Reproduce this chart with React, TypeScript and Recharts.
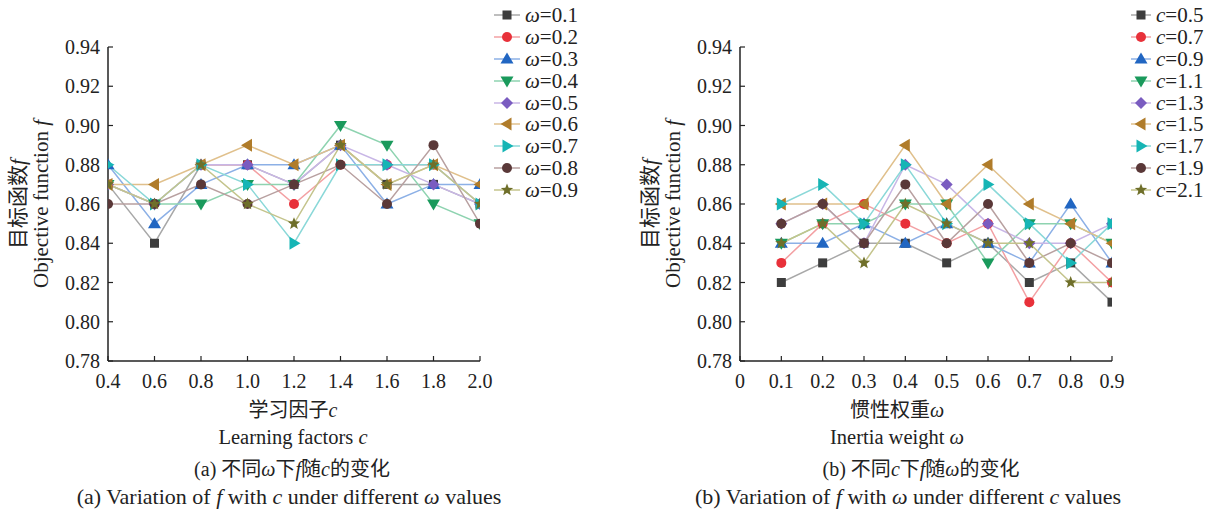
import React from 'react';
import { LineChart, Line, XAxis, YAxis } from 'recharts';

// left chart: f vs learning factor c, one series per omega
const cValues = [0.4, 0.6, 0.8, 1.0, 1.2, 1.4, 1.6, 1.8, 2.0];
const omegaNames = ['0.1', '0.2', '0.3', '0.4', '0.5', '0.6', '0.7', '0.8', '0.9'];
const w01 = [0.87, 0.84, 0.88, 0.88, 0.87, 0.89, 0.87, 0.87, 0.86];
const w02 = [0.87, 0.86, 0.88, 0.88, 0.86, 0.88, 0.88, 0.88, 0.86];
const w03 = [0.88, 0.85, 0.87, 0.88, 0.88, 0.89, 0.86, 0.87, 0.87];
const w04 = [0.87, 0.86, 0.86, 0.87, 0.87, 0.90, 0.89, 0.86, 0.85];
const w05 = [0.87, 0.86, 0.88, 0.88, 0.87, 0.89, 0.88, 0.87, 0.86];
const w06 = [0.87, 0.87, 0.88, 0.89, 0.88, 0.89, 0.87, 0.88, 0.87];
const w07 = [0.88, 0.86, 0.88, 0.87, 0.84, 0.88, 0.88, 0.88, 0.86];
const w08 = [0.86, 0.86, 0.87, 0.86, 0.87, 0.88, 0.86, 0.89, 0.85];
const w09 = [0.87, 0.86, 0.88, 0.86, 0.85, 0.89, 0.87, 0.88, 0.86];
const leftSeries = [w01, w02, w03, w04, w05, w06, w07, w08, w09];

// right chart: f vs inertia weight omega, one series per c
const omegaValues = [0.1, 0.2, 0.3, 0.4, 0.5, 0.6, 0.7, 0.8, 0.9];
const cNames = ['0.5', '0.7', '0.9', '1.1', '1.3', '1.5', '1.7', '1.9', '2.1'];
const c05 = [0.82, 0.83, 0.84, 0.84, 0.83, 0.84, 0.82, 0.83, 0.81];
const c07 = [0.83, 0.85, 0.86, 0.85, 0.84, 0.85, 0.81, 0.84, 0.82];
const c09 = [0.84, 0.84, 0.85, 0.84, 0.85, 0.84, 0.83, 0.86, 0.83];
const c11 = [0.84, 0.85, 0.85, 0.86, 0.86, 0.83, 0.85, 0.85, 0.84];
const c13 = [0.85, 0.86, 0.84, 0.88, 0.87, 0.85, 0.84, 0.84, 0.85];
const c15 = [0.86, 0.86, 0.86, 0.89, 0.86, 0.88, 0.86, 0.85, 0.84];
const c17 = [0.86, 0.87, 0.85, 0.88, 0.85, 0.87, 0.85, 0.83, 0.85];
const c19 = [0.85, 0.86, 0.84, 0.87, 0.84, 0.86, 0.83, 0.84, 0.83];
const c21 = [0.84, 0.85, 0.83, 0.86, 0.85, 0.84, 0.84, 0.82, 0.82];
const rightSeries = [c05, c07, c09, c11, c13, c15, c17, c19, c21];

const yTicks = [0.78, 0.80, 0.82, 0.84, 0.86, 0.88, 0.90, 0.92, 0.94];
const xTicksLeft = [0.4, 0.6, 0.8, 1.0, 1.2, 1.4, 1.6, 1.8, 2.0];
const xTicksRight = [0, 0.1, 0.2, 0.3, 0.4, 0.5, 0.6, 0.7, 0.8, 0.9];

const markerColors = ['#3d3d3d', '#e8313a', '#2166c2', '#1a9a5c', '#7a5cc0', '#b07c2a', '#16b5b5', '#5a3838', '#6f6f2a'];
const lineColors = ['#a8a8a8', '#f3a0a3', '#8cb0e6', '#8ed3b0', '#c8b6e6', '#e0c08c', '#8ad8d8', '#b8a0a0', '#c4c48c'];
const shapes = ['square', 'circle', 'up', 'down', 'diamond', 'left', 'right', 'circle', 'star'];

const FONT = '"Liberation Serif", "Noto Sans CJK SC", serif';
const FS = 21;

const leftData = cValues.map((x, i) => {
  const row: Record<string, number> = { x };
  leftSeries.forEach((s, k) => (row['s' + k] = s[i]));
  return row;
});
const rightData = omegaValues.map((x, i) => {
  const row: Record<string, number> = { x };
  rightSeries.forEach((s, k) => (row['s' + k] = s[i]));
  return row;
});

function Marker({ cx, cy, shape, fill }: { cx: number; cy: number; shape: string; fill: string }) {
  const r = 5.5;
  if (shape === 'square') return <rect x={cx - 4.5} y={cy - 4.5} width={9} height={9} fill={fill} />;
  if (shape === 'circle') return <circle cx={cx} cy={cy} r={5} fill={fill} />;
  if (shape === 'diamond')
    return <polygon points={`${cx},${cy - 6} ${cx + 6},${cy} ${cx},${cy + 6} ${cx - 6},${cy}`} fill={fill} />;
  if (shape === 'up')
    return <polygon points={`${cx},${cy - r - 1} ${cx + r + 1},${cy + r - 1} ${cx - r - 1},${cy + r - 1}`} fill={fill} />;
  if (shape === 'down')
    return <polygon points={`${cx},${cy + r + 1} ${cx + r + 1},${cy - r + 1} ${cx - r - 1},${cy - r + 1}`} fill={fill} />;
  if (shape === 'left')
    return <polygon points={`${cx - r - 1},${cy} ${cx + r - 1},${cy - r - 1} ${cx + r - 1},${cy + r + 1}`} fill={fill} />;
  if (shape === 'right')
    return <polygon points={`${cx + r + 1},${cy} ${cx - r + 1},${cy - r - 1} ${cx - r + 1},${cy + r + 1}`} fill={fill} />;
  const pts: string[] = [];
  for (let i = 0; i < 10; i++) {
    const a = -Math.PI / 2 + (i * Math.PI) / 5;
    const rr = i % 2 === 0 ? 6.5 : 2.8;
    pts.push(`${cx + rr * Math.cos(a)},${cy + rr * Math.sin(a)}`);
  }
  return <polygon points={pts.join(' ')} fill={fill} />;
}

const tickStyle = { fontFamily: FONT, fontSize: 20, fill: '#222' };

function Panel({ data, xTicks, domain, plotLeft, count }: { data: any[]; xTicks: number[]; domain: [number, number]; plotLeft: number; count: number }) {
  return (
    <LineChart width={600} height={400} data={data} margin={{ top: 47, right: 600 - plotLeft - 372, left: 0, bottom: 0 }}>
      <XAxis
        dataKey="x"
        type="number"
        domain={domain}
        ticks={xTicks}
        interval={0}
        allowDataOverflow
        height={39}
        tickSize={-5}
        tickMargin={18}
        tickFormatter={(v: number) => (v === 0 ? '0' : v.toFixed(1))}
        tick={tickStyle}
        axisLine={{ stroke: '#222', strokeWidth: 1.5 }}
        tickLine={{ stroke: '#222', strokeWidth: 1.2 }}
      />
      <YAxis
        type="number"
        domain={[0.78, 0.94]}
        ticks={yTicks}
        interval={0}
        width={plotLeft}
        tickSize={-5}
        tickMargin={13}
        tickFormatter={(v: number) => v.toFixed(2)}
        tick={tickStyle}
        axisLine={{ stroke: '#222', strokeWidth: 1.5 }}
        tickLine={{ stroke: '#222', strokeWidth: 1.2 }}
      />
      {Array.from({ length: count }, (_, k) => (
        <Line
          key={k}
          dataKey={'s' + k}
          type="linear"
          stroke={lineColors[k]}
          strokeWidth={1.5}
          isAnimationActive={false}
          dot={(p: any) => <Marker key={p.index} cx={p.cx} cy={p.cy} shape={shapes[k]} fill={markerColors[k]} />}
          activeDot={false}
        />
      ))}
    </LineChart>
  );
}

function LegendBox({ left, top, prefix, names, lineW }: { left: number; top: number; prefix: string; names: string[]; lineW: number }) {
  return (
    <div style={{ position: 'absolute', left, top, fontFamily: FONT, fontSize: FS, color: '#222' }}>
      {names.map((n, k) => (
        <div key={k} style={{ height: 21.9, lineHeight: '20px', display: 'flex', alignItems: 'center', whiteSpace: 'nowrap' }}>
          <svg width={lineW + 3} height={16} style={{ marginRight: 2 }}>
            <line x1={0} y1={8} x2={lineW} y2={8} stroke={lineColors[k]} strokeWidth={1.5} />
            <Marker cx={lineW / 2} cy={8} shape={shapes[k]} fill={markerColors[k]} />
          </svg>
          <span>
            <i>{prefix}</i>={n}
          </span>
        </div>
      ))}
    </div>
  );
}

function VLabel({ cx, cy, children }: { cx: number; cy: number; children: React.ReactNode }) {
  return (
    <div
      style={{
        position: 'absolute',
        left: cx - 150,
        top: cy - 10,
        width: 300,
        height: 20,
        lineHeight: '20px',
        textAlign: 'center',
        transform: 'rotate(-90deg)',
        fontFamily: FONT,
        fontSize: FS,
        color: '#222',
        whiteSpace: 'nowrap',
      }}
    >
      {children}
    </div>
  );
}

function HLabel({ cx, cy, size = FS, children }: { cx: number; cy: number; size?: number; children: React.ReactNode }) {
  return (
    <div
      style={{
        position: 'absolute',
        left: cx - 300,
        top: cy - 10,
        width: 600,
        height: 20,
        lineHeight: '20px',
        textAlign: 'center',
        fontFamily: FONT,
        fontSize: size,
        color: '#222',
        whiteSpace: 'nowrap',
      }}
    >
      {children}
    </div>
  );
}

export default function App() {
  return (
    <div style={{ position: 'fixed', left: 0, top: 0, width: 1209, height: 510, background: '#fff', overflow: 'hidden' }}>
      <div style={{ position: 'absolute', left: 0, top: 0 }}>
        <Panel data={leftData} xTicks={xTicksLeft} domain={[0.4, 2.0]} plotLeft={108} count={9} />
      </div>
      <div style={{ position: 'absolute', left: 600, top: 0 }}>
        <Panel data={rightData} xTicks={xTicksRight} domain={[0, 0.9]} plotLeft={140} count={9} />
      </div>

      <LegendBox left={494} top={4} prefix="ω" names={omegaNames} lineW={26} />
      <LegendBox left={1131} top={4} prefix="c" names={cNames} lineW={20} />

      <VLabel cx={18} cy={204}>目标函数<i>f</i></VLabel>
      <VLabel cx={41} cy={204}>Objective function <i>f</i></VLabel>
      <VLabel cx={650} cy={204}>目标函数<i>f</i></VLabel>
      <VLabel cx={673} cy={204}>Objective function <i>f</i></VLabel>

      <HLabel cx={293} cy={410} size={20}>学习因子<i>c</i></HLabel>
      <HLabel cx={293} cy={437} size={20.5}>Learning factors <i>c</i></HLabel>
      <HLabel cx={897} cy={410} size={20}>惯性权重<i>ω</i></HLabel>
      <HLabel cx={897} cy={437} size={20.5}>Inertia weight <i>ω</i></HLabel>

      <HLabel cx={292} cy={469} size={20}>(a) 不同<i>ω</i>下<i>f</i>随<i>c</i>的变化</HLabel>
      <HLabel cx={289} cy={497} size={22}>(a) Variation of <i>f</i> with <i>c</i> under different <i>ω</i> values</HLabel>
      <HLabel cx={921} cy={469} size={20}>(b) 不同<i>c</i>下<i>f</i>随<i>ω</i>的变化</HLabel>
      <HLabel cx={908} cy={497} size={22}>(b) Variation of <i>f</i> with <i>ω</i> under different <i>c</i> values</HLabel>
    </div>
  );
}
